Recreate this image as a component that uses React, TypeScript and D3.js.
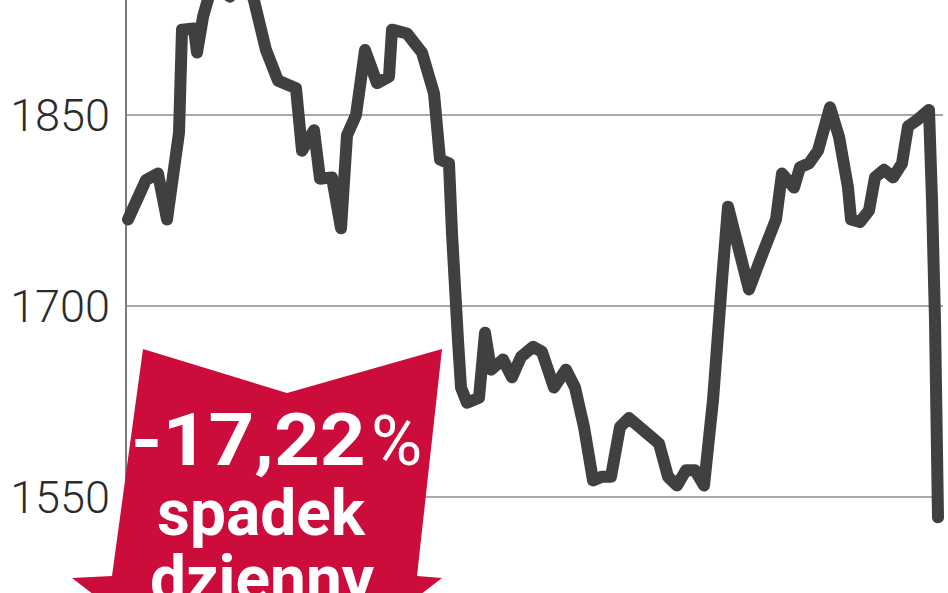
import React from "react";
import * as d3 from "d3";

const W = 948;
const H = 593;

// trading-day index and index value
const days = [0, 6, 10, 13, 17, 18, 22, 23, 25, 28, 31, 34, 37, 41, 42, 46, 50, 56, 58, 62, 64, 68, 71, 73, 76, 79, 83, 87, 88, 93, 98, 102, 104, 107, 108, 110, 111, 113, 117, 119, 121, 125, 128, 131, 135, 138, 142, 146, 149, 152, 155, 158, 161, 164, 167, 173, 177, 180, 183, 186, 189, 192, 195, 198, 200, 207, 211, 216, 218, 222, 224, 227, 230, 234, 237, 240, 241, 244, 247, 249, 252, 255, 258, 260, 263, 267, 268, 269, 270];
const values = [1768, 1799, 1804, 1768, 1836, 1917, 1918, 1899, 1927, 1952, 1948, 1943, 1950, 1947, 1940, 1901, 1877, 1871, 1822, 1838, 1800, 1801, 1761, 1834, 1850, 1901, 1875, 1880, 1917, 1914, 1899, 1867, 1815, 1812, 1757, 1673, 1636, 1624, 1628, 1679, 1650, 1658, 1644, 1660, 1668, 1664, 1636, 1650, 1636, 1605, 1563, 1566, 1566, 1605, 1612, 1600, 1592, 1566, 1559, 1571, 1571, 1559, 1626, 1720, 1778, 1713, 1738, 1768, 1804, 1793, 1809, 1812, 1822, 1856, 1833, 1793, 1768, 1766, 1775, 1801, 1807, 1801, 1812, 1841, 1846, 1854, 1783, 1689, 1534];

const yTicks = [1550, 1700, 1850];
const bannerValue = "-17,22";
const bannerPct = "%";
const bannerLine2 = "spadek";
const bannerLine3 = "dzienny";

export default function App() {
  const x = d3.scaleLinear().domain([0, 270]).range([128, 938]);
  const y = d3.scaleLinear().domain([1550, 1850]).range([497, 115]);

  const line = d3
    .line<number>()
    .x((_, i) => x(days[i]))
    .y((v) => y(v))
    .curve(d3.curveLinear);

  const banner = d3.line()([
    [143, 349],
    [287, 393],
    [442, 349],
    [417, 576],
    [442, 578],
    [257, 720],
    [72, 578],
    [112, 576],
  ]) + "Z";

  return (
    <div style={{ position: "absolute", left: 0, top: 0, width: W, height: H, overflow: "hidden", background: "#fff" }}>
      <svg width={W} height={H} viewBox={`0 0 ${W} ${H}`} style={{ display: "block" }}>
        <rect x={0} y={0} width={W} height={H} fill="#ffffff" />
        {yTicks.map((t) => (
          <g key={t}>
            <line x1={126} x2={943} y1={y(t)} y2={y(t)} stroke="#a9a9a9" strokeWidth={2} />
            <text
              x={110}
              y={y(t)}
              dy="0.36em"
              textAnchor="end"
              fontFamily="Roboto, 'Noto Sans', sans-serif"
              fontWeight={300}
              fontSize={45}
              fill="#2b2b2b"
            >
              {t}
            </text>
          </g>
        ))}
        <line x1={126} x2={126} y1={0} y2={H} stroke="#7a7a7a" strokeWidth={2} />
        <path
          d={line(values) || ""}
          fill="none"
          stroke="#404040"
          strokeWidth={12}
          strokeLinejoin="round"
          strokeLinecap="round"
        />
        <path d={banner} fill="#cc0c3b" />
        <g transform="translate(131,465) scale(1,0.91)">
          <text
            x={0}
            y={0}
            fontFamily="Roboto, sans-serif"
            fontWeight={700}
            fontSize={80}
            fill="#ffffff"
          >
            {bannerValue}
          </text>
        </g>
        <text x={371} y={465} fontFamily="Roboto, sans-serif" fontWeight={400} fontSize={70} fill="#ffffff">
          {bannerPct}
        </text>
        <text
          x={261}
          y={535}
          textAnchor="middle"
          fontFamily="Roboto, sans-serif"
          fontWeight={700}
          fontSize={64}
          fill="#ffffff"
        >
          {bannerLine2}
        </text>
        <text
          x={262}
          y={601}
          textAnchor="middle"
          fontFamily="Roboto, sans-serif"
          fontWeight={700}
          fontSize={64}
          fill="#ffffff"
        >
          {bannerLine3}
        </text>
      </svg>
    </div>
  );
}
